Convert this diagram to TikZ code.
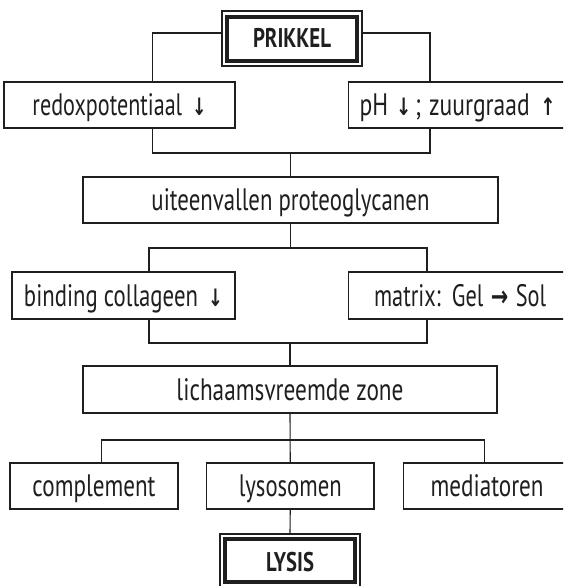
\documentclass[tikz,border=0pt]{standalone}
\usepackage{fontspec}
\usepackage{graphicx}
\setmainfont{PT Sans}
\newfontfamily\arrfont{DejaVu Sans}
\newcommand{\dnar}{{\arrfont\bfseries\fontsize{24}{24}\selectfont ↓}}
\newcommand{\upar}{{\arrfont\bfseries\fontsize{24}{24}\selectfont ↑}}
\newcommand{\rtar}{{\arrfont\bfseries\fontsize{29}{29}\selectfont →}}
\newcommand{\fitw}[2]{\resizebox{#1pt}{\height}{#2}}
\definecolor{ink}{gray}{0.12}
\begin{document}
\begin{tikzpicture}[x=1pt,y=-1pt,
  every node/.style={inner sep=0pt, text=ink, font=\fontsize{31}{33}\selectfont},
  box/.style={draw=ink, line width=1.2pt, rectangle, minimum height=46pt, text height=22pt, text depth=1pt},
  lbox/.style={box, anchor=west, align=left},
  frameout/.style={draw=ink, line width=1.1pt, rectangle, minimum width=140pt, minimum height=55pt},
  framein/.style={draw=ink, line width=3.2pt, rectangle, minimum width=130pt, minimum height=44pt, font=\bfseries\fontsize{27}{29}\selectfont},
  conn/.style={draw=ink, line width=1.1pt}]
\useasboundingbox (0,0) rectangle (563,586);
\fill[white] (0,0) rectangle (563,586);
\clip (0,0) rectangle (563,586);

% top
\node[frameout] (prikkel) at (292,38.5) {};
\node[framein, text height=19pt, text depth=1pt] (prikkelin) at (292,39) {\fitw{78}{PRIKKEL}};
\node[box, minimum width=231pt] (redox) at (119.5,105) {\fitw{174}{redoxpotentiaal\hspace{0.45em}\dnar}};
\node[lbox, text width=250pt, inner xsep=11pt] (ph) at (348,105) {\fitw{196}{pH \dnar\,; zuurgraad\hspace{0.45em}\upar}};

\node[box, minimum width=415pt] (uiteen) at (290.5,200) {\fitw{278}{uiteenvallen proteoglycanen}};

\node[box, minimum width=223pt, minimum height=47pt] (binding) at (123.5,295.5) {\fitw{199}{binding collageen\hspace{0.45em}\dnar}};
\node[lbox, text width=230pt, inner xsep=25.5pt, minimum height=47pt] (matrix) at (348,295.5) {\fitw{172}{matrix: Gel \rtar\ Sol}};

\node[box, minimum width=414pt, minimum height=47pt] (lichaam) at (290,389.5) {\fitw{227}{lichaamsvreemde zone}};

\node[box, minimum width=168pt] (complement) at (94,486) {\fitw{123}{complement}};
\node[box, minimum width=167.5pt] (lysosomen) at (290.25,486) {\fitw{103}{lysosomen}};
\node[lbox, text width=200pt, inner xsep=27pt] (mediatoren) at (403,486) {\fitw{113}{mediatoren}};

\node[frameout, minimum height=54pt] (lysis) at (290,561) {};
\node[framein, minimum height=43pt, text height=22pt, text depth=0pt] (lysisin) at (290,560.5) {\fitw{48}{LYSIS}};

% junction points
\coordinate (a1) at (152.6,33);
\coordinate (a2) at (430,33);
\coordinate (b1) at (152.6,153);
\coordinate (b2) at (430,153);
\coordinate (c1) at (149,248);
\coordinate (c2) at (427,248);
\coordinate (d1) at (149,343);
\coordinate (d2) at (427,343);
\coordinate (e1) at (101.6,440);
\coordinate (e2) at (484.7,440);

% connectors
\draw[conn] (prikkel.west |- a1) -- (a1) -- (a1 |- redox.north);
\draw[conn] (prikkel.east |- a2) -- (a2) -- (a2 |- ph.north);
\draw[conn] (b1 |- redox.south) -- (b1) -- (b2) -- (b2 |- ph.south);
\draw[conn] (uiteen.north) -- (uiteen.north |- b1);

\draw[conn] (uiteen.south) -- (uiteen.south |- c1);
\draw[conn] (binding.north -| c1) -- (c1) -- (c2) -- (c2 |- matrix.north);
\draw[conn] (binding.south -| d1) -- (d1) -- (d2) -- (d2 |- matrix.south);
\draw[conn] (lichaam.north) -- (lichaam.north |- d1);

\draw[conn] (lichaam.south) -- (lysosomen.north);
\draw[conn] (complement.north -| e1) -- (e1) -- (e2) -- (e2 |- mediatoren.north);
\draw[conn] (lysosomen.south) -- (lysis.north);
\end{tikzpicture}
\end{document}
